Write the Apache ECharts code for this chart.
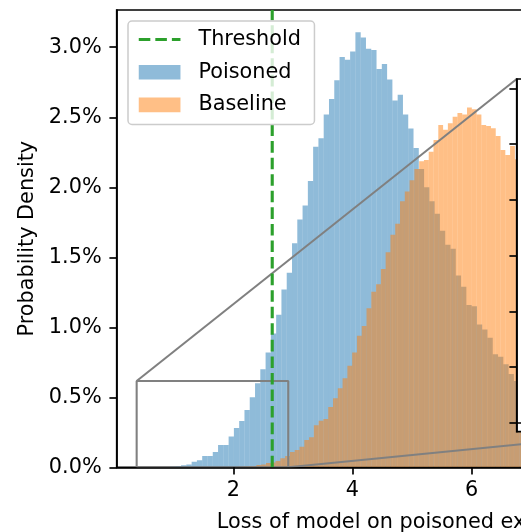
<!DOCTYPE html>
<html>
<head>
<meta charset="utf-8">
<script src="https://cdn.jsdelivr.net/npm/echarts@6/dist/echarts.min.js"></script>
<style>html,body{margin:0;padding:0;background:#fff;overflow:hidden;}#main{width:521px;height:532px;}</style>
</head>
<body>
<div id="main"></div>
<script>
// ---------- data ----------
const seriesNames = ['Threshold', 'Poisoned', 'Baseline'];
// Poisoned histogram (probability density, %), bins start at poisonedStart, width poisonedWidth
const poisonedStart = 0.947;
const poisonedWidth = 0.08866;
const poisonedValues = [
  0.005, 0.01, 0.015, 0.02,
  0.04, 0.05, 0.08, 0.08, 0.11, 0.16, 0.16, 0.22, 0.28, 0.33,
  0.41, 0.50, 0.60, 0.70, 0.82, 0.955, 1.09, 1.27, 1.39, 1.60,
  1.77, 1.87, 2.045, 2.29, 2.35, 2.52, 2.63, 2.765, 2.93, 2.91,
  2.97, 3.107, 3.07, 2.99, 2.98, 2.845, 2.88, 2.77, 2.62, 2.66,
  2.52, 2.42, 2.28, 2.13, 2.00, 1.90, 1.81, 1.69, 1.59, 1.56,
  1.37, 1.29, 1.16, 1.15, 1.02, 0.985, 0.926, 0.807, 0.79, 0.736,
  0.666, 0.616, 0.57, 0.52
];
// Baseline histogram
const baselineStart = 1.9876;
const baselineWidth = 0.08032;
const baselineValues = [
  0.003, 0.004, 0.005, 0.008, 0.01, 0.016, 0.02, 0.03, 0.035, 0.045, 0.064, 0.08,
  0.11, 0.124, 0.147, 0.195, 0.214, 0.30, 0.333, 0.345, 0.43, 0.493,
  0.564, 0.636, 0.726, 0.82, 0.94, 1.01, 1.136, 1.254, 1.307, 1.416,
  1.536, 1.66, 1.74, 1.90, 1.97, 2.05, 2.13, 2.185, 2.195, 2.254,
  2.338, 2.445, 2.41, 2.457, 2.504, 2.53, 2.52, 2.57, 2.557, 2.52,
  2.445, 2.438, 2.421, 2.366, 2.266, 2.23, 2.295, 2.20, 2.15, 2.10
];
const thresholdX = 2.654;
// inset (zoomed region) limits
const insetX = [0.379, 2.923];
const insetY = [-0.016, 0.6167];
// axis ticks
const xTicks = [2, 4, 6, 8];
const yTicks = [0, 0.5, 1.0, 1.5, 2.0, 2.5, 3.0];
const insetYTicks = [0, 0.1, 0.2, 0.3, 0.4, 0.5, 0.6];
const xRange = [0.044, 9.85];
const yRange = [0, 3.266];

// ---------- styling ----------
const FONT = 'DejaVu Sans';
const FS = 20.8;
const BLUE = 'rgba(31,119,180,0.5)';
const ORANGE = 'rgba(255,127,14,0.5)';
const GREEN = '#2ca02c';
const GRAY = '#808080';

function binData(start, width, values) {
  return values.map((v, i) => [start + i * width, start + (i + 1) * width, v]);
}
function histRender(params, api) {
  const p0 = api.coord([api.value(0), api.value(2)]);
  const p1 = api.coord([api.value(1), 0]);
  return {
    type: 'rect',
    shape: { x: p0[0], y: p0[1], width: p1[0] - p0[0], height: p1[1] - p0[1] },
    style: { fill: api.visual('color') }
  };
}
function frameRender(params, api) {
  const p0 = api.coord([api.value(0), api.value(3)]);
  const p1 = api.coord([api.value(1), api.value(2)]);
  return {
    type: 'rect',
    shape: { x: p0[0], y: p0[1], width: p1[0] - p0[0], height: p1[1] - p0[1] },
    style: { fill: '#ffffff', stroke: '#000', lineWidth: 1.67 }
  };
}

const poisonedData = binData(poisonedStart, poisonedWidth, poisonedValues);
const baselineData = binData(baselineStart, baselineWidth, baselineValues);

const axisCommon = {
  axisLine: { show: true, lineStyle: { color: '#000', width: 1.67 } },
  splitLine: { show: false }
};

const option = {
  animation: false,
  backgroundColor: '#ffffff',
  textStyle: { fontFamily: FONT },
  grid: [
    { left: 116.7, top: 10, width: 584.3, height: 457.3, outerBoundsMode: 'none', containLabel: false,
      show: true, borderColor: '#000', borderWidth: 1.67, backgroundColor: 'transparent' },
    { left: 516.7, top: 79, width: 131.3, height: 352.7, outerBoundsMode: 'none', containLabel: false, show: false }
  ],
  xAxis: [
    Object.assign({}, axisCommon, {
      type: 'value', gridIndex: 0, min: xRange[0], max: xRange[1], z: 5,
      axisTick: { show: true, length: 7.3, lineStyle: { color: '#000', width: 1.67 }, customValues: xTicks },
      axisLabel: { customValues: xTicks, fontSize: FS, color: '#000', fontFamily: FONT, margin: 13 },
      name: 'Loss of model on poisoned examples', nameLocation: 'middle', nameGap: 45,
      nameTextStyle: { fontSize: FS, color: '#000', fontFamily: FONT }
    }),
    Object.assign({}, axisCommon, {
      type: 'value', gridIndex: 1, min: insetX[0], max: insetX[1], z: 8,
      axisTick: { show: false }, axisLabel: { show: false }
    })
  ],
  yAxis: [
    Object.assign({}, axisCommon, {
      type: 'value', gridIndex: 0, min: yRange[0], max: yRange[1], z: 5,
      axisTick: { show: true, length: 7.3, lineStyle: { color: '#000', width: 1.67 }, customValues: yTicks },
      axisLabel: { customValues: yTicks, fontSize: FS, color: '#000', fontFamily: FONT, margin: 15,
        formatter: v => v.toFixed(1) + '%' },
      name: 'Probability Density', nameLocation: 'middle', nameGap: 79, nameRotate: 90,
      nameTextStyle: { fontSize: FS, color: '#000', fontFamily: FONT }
    }),
    Object.assign({}, axisCommon, {
      type: 'value', gridIndex: 1, min: insetY[0], max: insetY[1], z: 8,
      axisTick: { show: true, length: 7.3, lineStyle: { color: '#000', width: 1.67 }, customValues: insetYTicks },
      axisLabel: { show: false }
    })
  ],
  legend: {
    orient: 'vertical', left: 128, top: 21, z: 20,
    padding: [8, 13.5, 9, 9.2],
    itemWidth: 41.7, itemHeight: 14.6, itemGap: 11.7,
    backgroundColor: 'rgba(255,255,255,0.8)', borderColor: '#cccccc', borderWidth: 1.5, borderRadius: 4,
    selectedMode: false,
    textStyle: { fontSize: FS, color: '#000', fontFamily: FONT, lineHeight: 20, padding: [0, 0, 0, 13] },
    data: [
      { name: seriesNames[0], lineStyle: { color: GREEN, width: 3.125, type: [11.56, 5] },
        itemStyle: { color: 'rgba(0,0,0,0)', borderWidth: 0, opacity: 0 } },
      { name: seriesNames[1], icon: 'rect' },
      { name: seriesNames[2], icon: 'rect' }
    ]
  },
  series: [
    { name: seriesNames[1], type: 'custom', xAxisIndex: 0, yAxisIndex: 0, z: 2, clip: true,
      itemStyle: { color: BLUE }, renderItem: histRender, encode: { x: [0, 1], y: 2 }, data: poisonedData },
    { name: seriesNames[2], type: 'custom', xAxisIndex: 0, yAxisIndex: 0, z: 2, clip: true,
      itemStyle: { color: ORANGE }, renderItem: histRender, encode: { x: [0, 1], y: 2 }, data: baselineData },
    { id: 'insetBox', type: 'line', xAxisIndex: 0, yAxisIndex: 0, z: 3, symbol: 'none', silent: true,
      lineStyle: { color: GRAY, width: 2.08 },
      data: [[insetX[0], 0], [insetX[1], 0], [insetX[1], insetY[1]], [insetX[0], insetY[1]], [insetX[0], 0]] },
    { id: 'conn1', type: 'line', xAxisIndex: 0, yAxisIndex: 0, z: 3, symbol: 'none', silent: true,
      lineStyle: { color: GRAY, width: 2.08 }, data: [] },
    { id: 'conn2', type: 'line', xAxisIndex: 0, yAxisIndex: 0, z: 3, symbol: 'none', silent: true,
      lineStyle: { color: GRAY, width: 2.08 }, data: [] },
    { name: seriesNames[0], type: 'line', xAxisIndex: 0, yAxisIndex: 0, z: 4, symbol: 'none', silent: true,
      itemStyle: { color: GREEN },
      lineStyle: { color: GREEN, width: 3.125, type: [11.56, 5] },
      data: [[thresholdX, yRange[0]], [thresholdX, yRange[1]]] },
    // inset axes content
    { id: 'insetFrame', type: 'custom', xAxisIndex: 1, yAxisIndex: 1, z: 6, clip: false, silent: true,
      renderItem: frameRender, data: [[insetX[0], insetX[1], insetY[0], insetY[1]]] },
    { name: seriesNames[1], type: 'custom', xAxisIndex: 1, yAxisIndex: 1, z: 7, clip: true,
      itemStyle: { color: BLUE }, renderItem: histRender, encode: { x: [0, 1], y: 2 }, data: poisonedData },
    { name: seriesNames[2], type: 'custom', xAxisIndex: 1, yAxisIndex: 1, z: 7, clip: true,
      itemStyle: { color: ORANGE }, renderItem: histRender, encode: { x: [0, 1], y: 2 }, data: baselineData }
  ]
};

const chart = echarts.init(document.getElementById('main'), null, { renderer: 'canvas' });
chart.setOption(option);
// connector lines from the zoom box corners to the inset corners
const tl = chart.convertToPixel({ gridIndex: 1 }, [insetX[0], insetY[1]]);
const br = chart.convertToPixel({ gridIndex: 1 }, [insetX[1], insetY[0]]);
const tlMain = chart.convertFromPixel({ gridIndex: 0 }, tl);
const brMain = chart.convertFromPixel({ gridIndex: 0 }, br);
chart.setOption({ series: [
  { id: 'conn1', data: [[insetX[0], insetY[1]], tlMain] },
  { id: 'conn2', data: [[insetX[1], 0], brMain] }
] });
</script>
</body>
</html>
